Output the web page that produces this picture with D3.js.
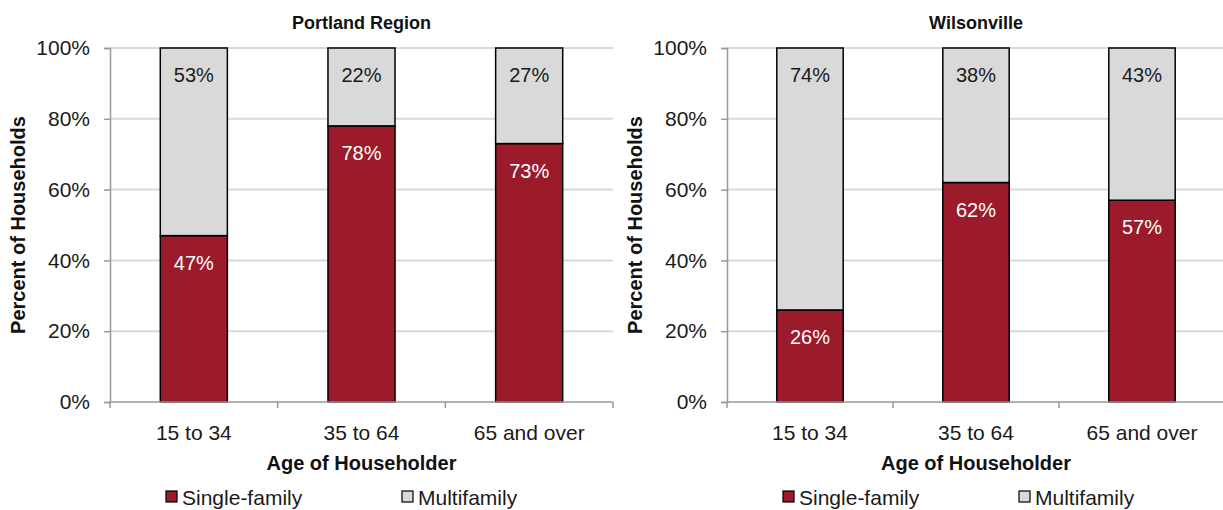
<!DOCTYPE html>
<html>
<head>
<meta charset="utf-8">
<script src="https://cdn.jsdelivr.net/npm/d3@7"></script>
<style>
  html, body { margin: 0; padding: 0; background: #fff; }
  svg { display: block; font-family: "Liberation Sans", Arial, sans-serif; }
</style>
</head>
<body>
<svg id="chart" width="1223" height="510"></svg>
<script>
// Housing type by age of householder, two geographies
const ageGroups = ["15 to 34", "35 to 64", "65 and over"];
const portlandSingle = [47, 78, 73];
const portlandMulti = [53, 22, 27];
const wilsonvilleSingle = [26, 62, 57];
const wilsonvilleMulti = [74, 38, 43];
const yTicks = [0, 20, 40, 60, 80, 100];
const seriesNames = ["Single-family", "Multifamily"];
const seriesColors = ["#9B1B2B", "#D9D9D9"];
const labelColors = ["#ffffff", "#1a1a1a"];

const panels = [
  { title: "Portland Region", single: portlandSingle, multi: portlandMulti, x0: 110, x1: 613 },
  { title: "Wilsonville", single: wilsonvilleSingle, multi: wilsonvilleMulti, x0: 727, x1: 1225 }
];

const svg = d3.select("#chart");
const yTop = 48, yBottom = 402;

panels.forEach(p => {
  const g = svg.append("g");
  const x = d3.scaleBand().domain(ageGroups).range([p.x0, p.x1]).paddingInner(0.6).paddingOuter(0.3);
  const xb = d3.scaleBand().domain(ageGroups).range([p.x0, p.x1]);
  const y = d3.scaleLinear().domain([0, 100]).range([yBottom, yTop]);

  // gridlines
  g.selectAll("line.grid").data(yTicks.filter(t => t > 0)).join("line")
    .attr("x1", p.x0).attr("x2", p.x1)
    .attr("y1", d => y(d)).attr("y2", d => y(d))
    .attr("stroke", "#d9d9d9").attr("stroke-width", 2);

  // stacked bars
  const rows = ageGroups.map((a, i) => ({ age: a, vals: [p.single[i], p.multi[i]] }));
  rows.forEach(r => {
    let base = 0;
    r.vals.forEach((v, si) => {
      const top = base + v;
      g.append("rect")
        .attr("x", x(r.age)).attr("width", x.bandwidth())
        .attr("y", y(top)).attr("height", y(base) - y(top))
        .attr("fill", seriesColors[si])
        .attr("stroke", "#000").attr("stroke-width", 1.5);
      g.append("text")
        .attr("x", x(r.age) + x.bandwidth() / 2)
        .attr("y", y(top) + 27)
        .attr("dy", "0.35em")
        .attr("text-anchor", "middle")
        .attr("font-size", 20)
        .attr("fill", labelColors[si])
        .text(v + "%");
      base = top;
    });
  });

  // y axis
  const yAxis = g.append("g").attr("transform", `translate(${p.x0},0)`)
    .call(d3.axisLeft(y).tickValues(yTicks).tickFormat(d => d + "%").tickSize(6).tickPadding(14));
  yAxis.select(".domain").attr("stroke", "#999").attr("stroke-width", 1.5);
  yAxis.selectAll(".tick line").attr("stroke", "#999").attr("stroke-width", 1.5);
  yAxis.selectAll(".tick text").attr("font-size", 21).attr("fill", "#1a1a1a")
    .attr("font-family", "'Liberation Sans', Arial, sans-serif");

  // x axis with ticks at category boundaries
  const xAxisG = g.append("g").attr("transform", `translate(0,${yBottom})`);
  xAxisG.append("line").attr("x1", p.x0).attr("x2", p.x1).attr("y1", 0).attr("y2", 0)
    .attr("stroke", "#999").attr("stroke-width", 1.5);
  const bounds = ageGroups.map(a => xb(a)).concat([p.x1]);
  xAxisG.selectAll("line.tk").data(bounds).join("line")
    .attr("x1", d => d).attr("x2", d => d).attr("y1", 0).attr("y2", 6)
    .attr("stroke", "#999").attr("stroke-width", 1.5);
  xAxisG.selectAll("text").data(ageGroups).join("text")
    .attr("x", d => xb(d) + xb.bandwidth() / 2)
    .attr("y", 38)
    .attr("text-anchor", "middle")
    .attr("font-size", 21)
    .attr("fill", "#1a1a1a")
    .text(d => d);

  // titles
  g.append("text")
    .attr("x", (p.x0 + p.x1) / 2).attr("y", 29)
    .attr("text-anchor", "middle").attr("font-weight", "bold").attr("font-size", 18)
    .attr("fill", "#111").text(p.title);
  g.append("text")
    .attr("x", (p.x0 + p.x1) / 2).attr("y", 470)
    .attr("text-anchor", "middle").attr("font-weight", "bold").attr("font-size", 20)
    .attr("fill", "#111").text("Age of Householder");
  g.append("text")
    .attr("transform", `translate(${p.x0 - 85},${(yTop + yBottom) / 2}) rotate(-90)`)
    .attr("text-anchor", "middle").attr("font-weight", "bold").attr("font-size", 20)
    .attr("fill", "#111").text("Percent of Households");

  // legend
  const legendX = [p.x0 + 56, p.x0 + 292];
  seriesNames.forEach((name, si) => {
    g.append("rect")
      .attr("x", legendX[si]).attr("y", 491).attr("width", 11).attr("height", 11)
      .attr("fill", seriesColors[si]).attr("stroke", "#000").attr("stroke-width", 1.2);
    g.append("text")
      .attr("x", legendX[si] + 16).attr("y", 505)
      .attr("font-size", 21).attr("fill", "#1a1a1a").text(name);
  });
});
</script>
</body>
</html>
